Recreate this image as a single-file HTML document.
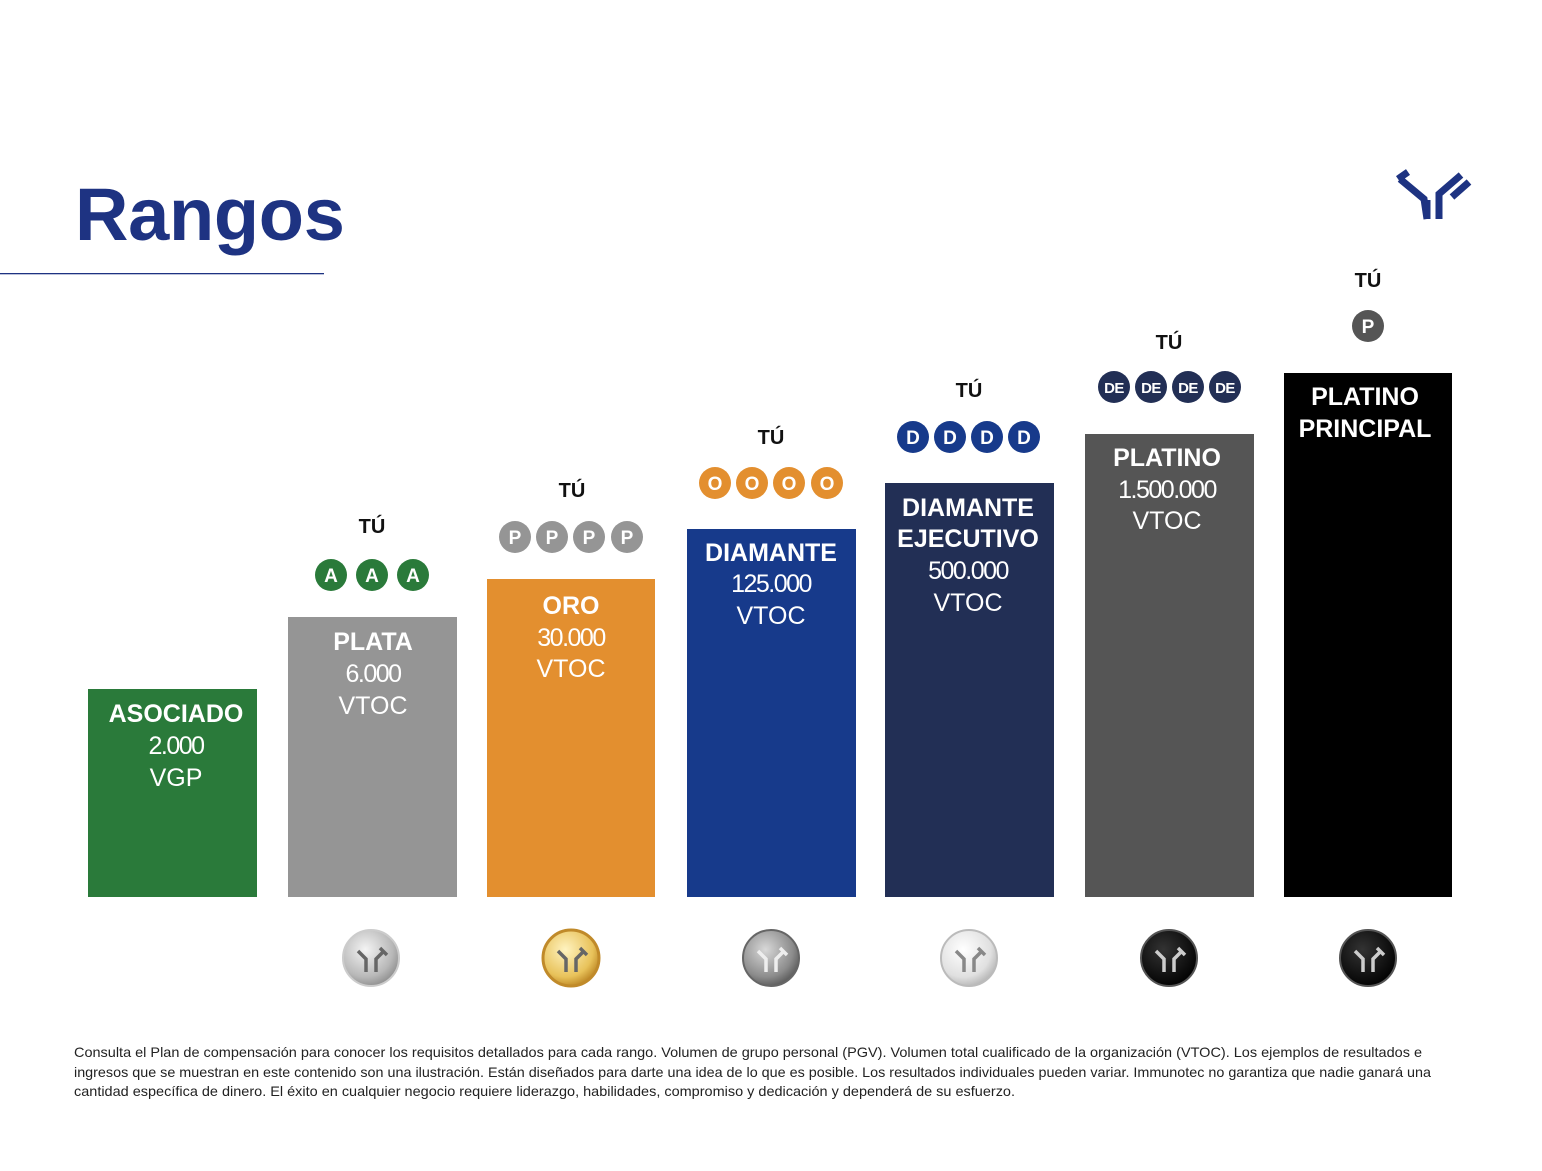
<!DOCTYPE html>
<html><head><meta charset="utf-8"><style>
html,body{margin:0;padding:0;background:#fff;}
svg{display:block;font-family:"Liberation Sans",Arial,sans-serif;}
</style></head><body>
<svg width="1542" height="1171" viewBox="0 0 1542 1171" xmlns="http://www.w3.org/2000/svg">
<defs>
<radialGradient id="gs" cx="40%" cy="35%" r="70%"><stop offset="0" stop-color="#f4f4f4"/><stop offset="0.7" stop-color="#b8b8b8"/><stop offset="1" stop-color="#8a8a8a"/></radialGradient>
<radialGradient id="gg" cx="40%" cy="35%" r="70%"><stop offset="0" stop-color="#fff3c0"/><stop offset="0.7" stop-color="#e8c25a"/><stop offset="1" stop-color="#b8801e"/></radialGradient>
<radialGradient id="gd" cx="40%" cy="35%" r="70%"><stop offset="0" stop-color="#d8d8d8"/><stop offset="0.7" stop-color="#8c8c8c"/><stop offset="1" stop-color="#555"/></radialGradient>
<radialGradient id="gw" cx="40%" cy="35%" r="70%"><stop offset="0" stop-color="#ffffff"/><stop offset="0.7" stop-color="#e0e0e0"/><stop offset="1" stop-color="#b0b0b0"/></radialGradient>
<radialGradient id="gb" cx="40%" cy="35%" r="70%"><stop offset="0" stop-color="#333"/><stop offset="1" stop-color="#000"/></radialGradient>
<g id="sym"><path d="M-13,-9 L-5,-1 L-5,12 M5,12 L5,-1 L13,-9 M9,-12 L16,-5" fill="none" stroke-width="3.5"/></g>
</defs>
<text x="75" y="240" font-size="74" font-weight="bold" fill="#1e3382" letter-spacing="-0.3">Rangos</text>
<rect x="0" y="273" width="324" height="1.3" fill="#1e3382"/>
<g fill="none" stroke="#1e3382" stroke-width="7">
<path d="M1398,179 L1408,172"/>
<path d="M1400,179 L1424,199 L1427,219"/>
<path d="M1427,219 L1427,200"/>
<path d="M1439,219 L1439,194 L1461,175"/>
<path d="M1452,197 L1469,182"/>
</g>

<rect x="88" y="689" width="169" height="208" fill="#2a7a3a"/>
<rect x="288" y="617" width="169" height="280" fill="#959595"/>
<rect x="487" y="579" width="168" height="318" fill="#e38f2f"/>
<rect x="687" y="529" width="169" height="368" fill="#173a8b"/>
<rect x="885" y="483" width="169" height="414" fill="#222f55"/>
<rect x="1085" y="434" width="169" height="463" fill="#555555"/>
<rect x="1284" y="373" width="168" height="524" fill="#000"/>

<g fill="#fff" text-anchor="middle" font-size="25">
<text x="176" y="722" font-weight="bold">ASOCIADO</text><text x="176" y="754" letter-spacing="-1.5">2.000</text><text x="176" y="786">VGP</text>
<text x="373" y="650" font-weight="bold">PLATA</text><text x="373" y="682" letter-spacing="-1.5">6.000</text><text x="373" y="714">VTOC</text>
<text x="571" y="614" font-weight="bold">ORO</text><text x="571" y="646" letter-spacing="-1.5">30.000</text><text x="571" y="677">VTOC</text>
<text x="771" y="561" font-weight="bold">DIAMANTE</text><text x="771" y="592" letter-spacing="-1.5">125.000</text><text x="771" y="624">VTOC</text>
<text x="968" y="516" font-weight="bold">DIAMANTE</text><text x="968" y="547" font-weight="bold">EJECUTIVO</text><text x="968" y="579" letter-spacing="-1.5">500.000</text><text x="968" y="611">VTOC</text>
<text x="1167" y="466" font-weight="bold">PLATINO</text><text x="1167" y="498" letter-spacing="-1.5">1.500.000</text><text x="1167" y="529">VTOC</text>
<text x="1365" y="405" font-weight="bold">PLATINO</text><text x="1365" y="437" font-weight="bold">PRINCIPAL</text>
</g>

<g font-size="20" font-weight="bold" text-anchor="middle" fill="#111">
<text x="372" y="533">TÚ</text><text x="572" y="497">TÚ</text><text x="771" y="444">TÚ</text><text x="969" y="397">TÚ</text><text x="1169" y="349">TÚ</text><text x="1368" y="287">TÚ</text>
</g>

<g font-weight="bold" text-anchor="middle" fill="#fff" font-size="19">
<g fill="#2a7a3a"><circle cx="331" cy="575" r="16"/><circle cx="372" cy="575" r="16"/><circle cx="413" cy="575" r="16"/></g>
<text x="331" y="582">A</text><text x="372" y="582">A</text><text x="413" y="582">A</text>
<g fill="#959595"><circle cx="515" cy="537" r="16"/><circle cx="552" cy="537" r="16"/><circle cx="589" cy="537" r="16"/><circle cx="627" cy="537" r="16"/></g>
<text x="515" y="544">P</text><text x="552" y="544">P</text><text x="589" y="544">P</text><text x="627" y="544">P</text>
<g fill="#e38f2f"><circle cx="715" cy="483" r="16"/><circle cx="752" cy="483" r="16"/><circle cx="789" cy="483" r="16"/><circle cx="827" cy="483" r="16"/></g>
<text x="715" y="490">O</text><text x="752" y="490">O</text><text x="789" y="490">O</text><text x="827" y="490">O</text>
<g fill="#173a8b"><circle cx="913" cy="437" r="16"/><circle cx="950" cy="437" r="16"/><circle cx="987" cy="437" r="16"/><circle cx="1024" cy="437" r="16"/></g>
<text x="913" y="444">D</text><text x="950" y="444">D</text><text x="987" y="444">D</text><text x="1024" y="444">D</text>
<g fill="#222f55"><circle cx="1114" cy="387" r="16"/><circle cx="1151" cy="387" r="16"/><circle cx="1188" cy="387" r="16"/><circle cx="1225" cy="387" r="16"/></g>
<g font-size="15" letter-spacing="-0.5"><text x="1114" y="393">DE</text><text x="1151" y="393">DE</text><text x="1188" y="393">DE</text><text x="1225" y="393">DE</text></g>
<circle cx="1368" cy="326" r="16" fill="#555"/><text x="1368" y="333">P</text>
</g>

<g>
<circle cx="371" cy="958" r="28" fill="url(#gs)" stroke="#ccc" stroke-width="2"/><use href="#sym" x="371" y="960" stroke="#666"/>
<circle cx="571" cy="958" r="28" fill="url(#gg)" stroke="#c08a2a" stroke-width="3"/><use href="#sym" x="571" y="960" stroke="#666"/>
<circle cx="771" cy="958" r="28" fill="url(#gd)" stroke="#666" stroke-width="2"/><use href="#sym" x="771" y="960" stroke="#eee"/>
<circle cx="969" cy="958" r="28" fill="url(#gw)" stroke="#bbb" stroke-width="2"/><use href="#sym" x="969" y="960" stroke="#888"/>
<circle cx="1169" cy="958" r="28" fill="url(#gb)" stroke="#555" stroke-width="2"/><use href="#sym" x="1169" y="960" stroke="#ccc"/>
<circle cx="1368" cy="958" r="28" fill="url(#gb)" stroke="#555" stroke-width="2"/><use href="#sym" x="1368" y="960" stroke="#ccc"/>
</g>

<g font-size="14" fill="#222">
<text x="74" y="1057" textLength="1348" lengthAdjust="spacingAndGlyphs">Consulta el Plan de compensación para conocer los requisitos detallados para cada rango. Volumen de grupo personal (PGV). Volumen total cualificado de la organización (VTOC). Los ejemplos de resultados e</text>
<text x="74" y="1077" textLength="1357" lengthAdjust="spacingAndGlyphs">ingresos que se muestran en este contenido son una ilustración. Están diseñados para darte una idea de lo que es posible. Los resultados individuales pueden variar. Immunotec no garantiza que nadie ganará una</text>
<text x="74" y="1096" textLength="941" lengthAdjust="spacingAndGlyphs">cantidad específica de dinero. El éxito en cualquier negocio requiere liderazgo, habilidades, compromiso y dedicación y dependerá de su esfuerzo.</text>
</g>
</svg>
</body></html>
